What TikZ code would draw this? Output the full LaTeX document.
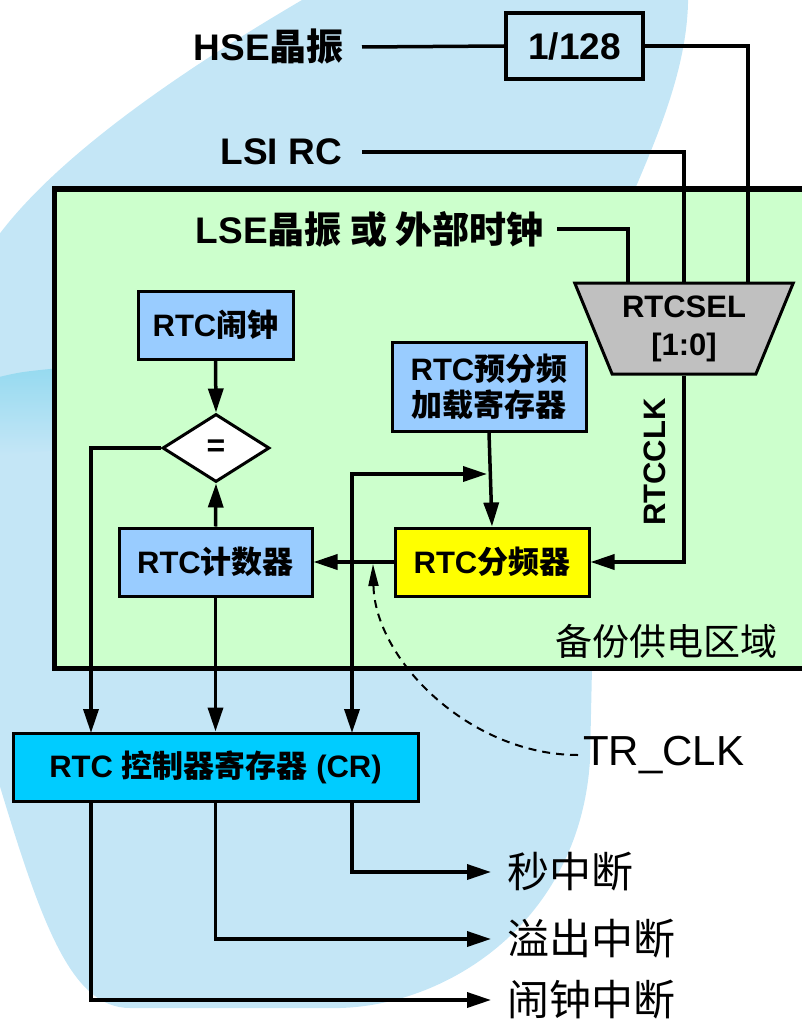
\documentclass[tikz,border=0pt]{standalone}
\usepackage{fontspec}
\setmainfont{Liberation Sans}
\newfontfamily\cjk{Noto Sans CJK SC}
\usetikzlibrary{arrows.meta,shapes.geometric,calc}
\definecolor{blob}{RGB}{196,230,246}
\definecolor{blobdark}{RGB}{150,218,240}
\definecolor{zone}{RGB}{204,255,204}
\definecolor{lblue}{RGB}{153,204,255}
\definecolor{cyanbox}{RGB}{0,204,255}
\definecolor{yel}{RGB}{255,255,0}
\definecolor{muxgray}{RGB}{192,192,192}
\newcommand{\zh}[1]{{\cjk #1}}
\begin{document}
\begin{tikzpicture}[x=1pt,y=-1pt,
  conn/.style={line width=3.5pt},
  arr/.style={conn,-{Triangle[length=24pt,width=15pt]}},
  biglbl/.style={font=\fontsize{37}{40}\selectfont\bfseries,inner ysep=0pt},
  boxstyle/.style={draw,line width=3pt,align=center,inner sep=0pt,
    font=\fontsize{31}{36}\selectfont\bfseries},
  plainlbl/.style={font=\fontsize{42}{46}\selectfont,inner ysep=0pt}
]
\useasboundingbox (0,0) rectangle (802,1019);
\clip (0,0) rectangle (802,1019);
% background blob
\fill[blob] (302,-10) -- (302,0) .. controls (200,60) and (60,150) .. (-5,240)
  -- (-5,770) .. controls (40,920) and (70,1008) .. (130,1008)
  -- (340,1008) .. controls (450,1005) and (580,920) .. (590,760)
  -- (592,668) -- (635,189) .. controls (660,130) and (690,60) .. (688,-10) -- cycle;
\shade[top color=blobdark,bottom color=blob] (-5,378) .. controls (20,372) .. (60,368)
  -- (60,450) -- (-5,455) -- cycle;
% backup power zone
\draw[line width=5pt,fill=zone] (54,189) rectangle (840,668);
\node[font=\fontsize{37}{40}\selectfont\cjk,inner sep=0pt] (zonelbl) at (666,641) {备份供电区域};

% top inputs
\node[biglbl,anchor=east,inner xsep=18pt] (hse) at (362,47) {HSE\zh{晶振}};
\node[biglbl,anchor=east,inner xsep=20pt] (lsi) at (362,152) {LSI RC};
\node[biglbl,anchor=east,inner xsep=13pt] (lse) at (557,229) {LSE\zh{晶振 或 外部时钟}};
\node[draw,line width=3.5pt,minimum width=137pt,minimum height=66pt,inner sep=0pt,
  font=\fontsize{37}{40}\selectfont\bfseries] (div) at (574.5,46) {1/128};

% mux
\node[trapezium,draw,line width=3pt,fill=muxgray,shape border rotate=180,
  trapezium stretches=true,trapezium angle=64,minimum width=219pt,minimum height=91pt,
  align=center,inner sep=0pt,font=\fontsize{31}{38}\selectfont\bfseries] (mux) at (684,328.5) {RTCSEL\\{[1:0]}};
\coordinate (mxa) at ($(mux.north)+(-56,0)$);
\coordinate (mxc) at ($(mux.north)+(64,0)$);

\draw[conn] (hse.east) -- (div.west);
\draw[conn] (div.east) -| (mxc);
\draw[conn] (lsi.east) -| (mux.north);
\draw[conn] (lse.east) -| (mxa);

% boxes
\node[boxstyle,fill=lblue,minimum width=155pt,minimum height=68pt] (alarm) at (215.5,325) {RTC\zh{闹钟}};
\node[diamond,draw,line width=3pt,fill=white,minimum width=107pt,minimum height=68pt,
  aspect=1.57,inner sep=0pt,font=\fontsize{32}{36}\selectfont\bfseries] (eqd) at (216,448) {=};
\node[boxstyle,fill=lblue,minimum width=193pt,minimum height=68pt] (counter) at (215.5,562) {RTC\zh{计数器}};
\node[boxstyle,fill=lblue,minimum width=194pt,minimum height=89pt] (presl) at (489,386.5) {RTC\zh{预分频}\\\zh{加载寄存器}};
\node[boxstyle,fill=yel,minimum width=194pt,minimum height=68pt] (pres) at (492,562) {RTC\zh{分频器}};
\node[boxstyle,fill=cyanbox,minimum width=405pt,minimum height=68pt] (cr) at (215.5,767) {RTC \zh{控制器寄存器} (CR)};

\node[font=\fontsize{31}{36}\selectfont\bfseries,rotate=90,inner sep=0pt] (rtcclk) at (655,462) {RTCCLK};

% connectors
\draw[arr] (alarm.south) -- (eqd.north);
\draw[arr] (counter.north) -- (eqd.south);
\coordinate (cra) at (91,733);
\draw[arr] (eqd.west) -| (cra);
\draw[arr] (counter.south) -- (counter.south |- cr.north);
\draw[arr] (presl.south) -- (pres.north);
\coordinate (crc) at (352,733);
\coordinate (bustip) at (487,474);
\draw[conn,{Triangle[length=24pt,width=15pt]}-{Triangle[length=24pt,width=15pt]}] (crc) |- (bustip);
\draw[arr] (pres.west) -- (counter.east);
\draw[arr] (mux.south) |- (pres.east);

% TR_CLK
\node[plainlbl,anchor=west,inner xsep=5pt] (trclk) at (578,755) {TR\_CLK};
\coordinate (trtip) at (373,564);
\draw[line width=2pt,dash pattern=on 8pt off 6pt,-{Triangle[length=22pt,width=10pt]}]
  (trclk.west) .. controls (470,755) and (375,660) .. (trtip);

% interrupts
\node[plainlbl,font=\fontsize{42}{46}\selectfont\cjk,anchor=west,inner xsep=16pt] (secint) at (491,872) {秒中断};
\node[plainlbl,font=\fontsize{42}{46}\selectfont\cjk,anchor=west,inner xsep=16pt] (ovfint) at (491,939) {溢出中断};
\node[plainlbl,font=\fontsize{42}{46}\selectfont\cjk,anchor=west,inner xsep=16pt] (almint) at (491,1000) {闹钟中断};
\draw[arr] (cr.south -| crc) |- (secint.west);
\draw[arr] (cr.south -| counter.south) |- (ovfint.west);
\draw[arr] (cr.south -| cra) |- (almint.west);
\end{tikzpicture}
\end{document}
